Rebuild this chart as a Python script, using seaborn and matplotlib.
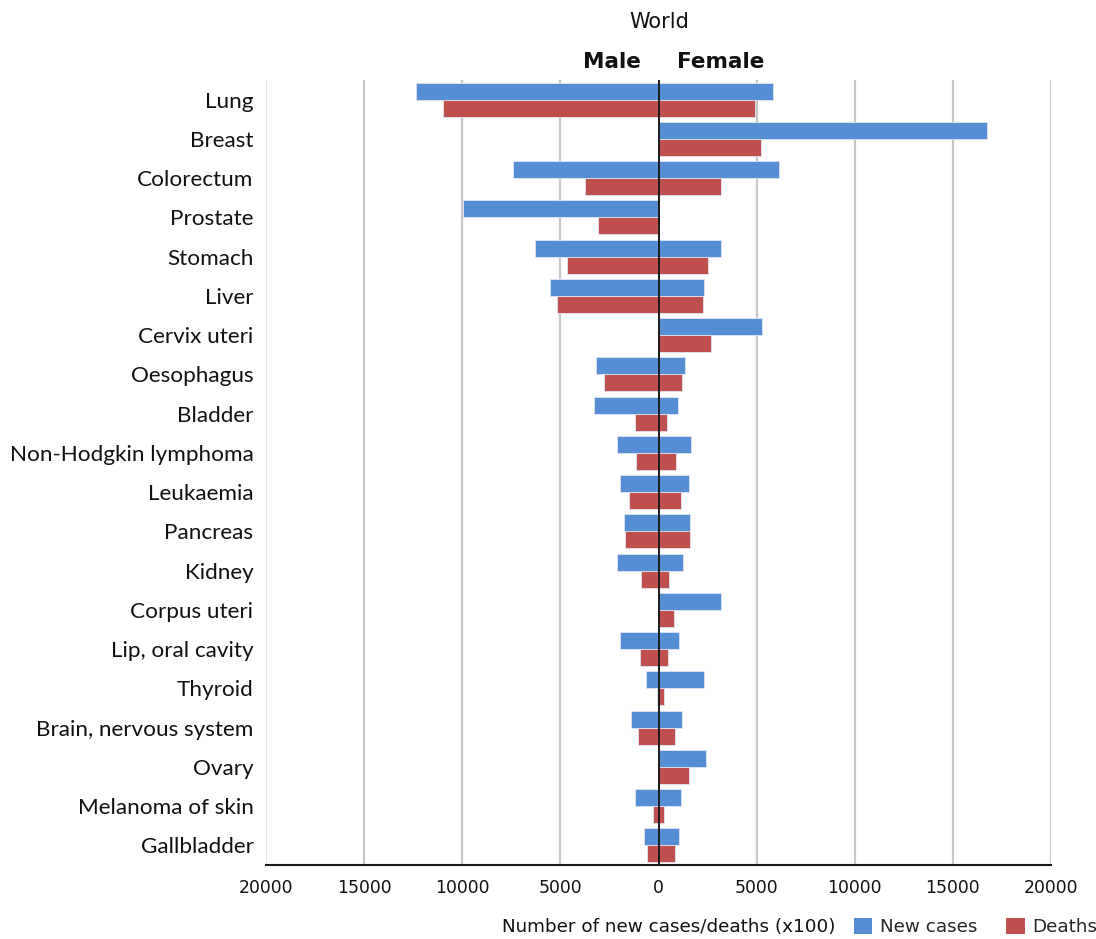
import numpy as np
import pandas as pd
import matplotlib
matplotlib.use("Agg")
import matplotlib.pyplot as plt
from matplotlib.patches import Patch
import seaborn as sns

# Cancer sites, top to bottom
sites = [
    "Lung", "Breast", "Colorectum", "Prostate", "Stomach", "Liver",
    "Cervix uteri", "Oesophagus", "Bladder", "Non-Hodgkin lymphoma",
    "Leukaemia", "Pancreas", "Kidney", "Corpus uteri", "Lip, oral cavity",
    "Thyroid", "Brain, nervous system", "Ovary", "Melanoma of skin",
    "Gallbladder",
]

# Counts in hundreds (NaN where a site does not apply to that sex)
male_new = [12380, np.nan, 7430, 9970, 6280, 5510, np.nan, 3200, 3290, 2140,
            1970, 1750, 2130, np.nan, 1970, 650, 1380, np.nan, 1190, 750]
male_deaths = [10970, np.nan, 3720, 3060, 4680, 5190, np.nan, 2790, 1210, 1140,
               1480, 1700, 890, np.nan, 950, 100, 1020, np.nan, 290, 580]
female_new = [5850, 16750, 6150, np.nan, 3190, 2300, 5290, 1340, 1000, 1680,
              1530, 1610, 1260, 3210, 1020, 2330, 1190, 2400, 1140, 1040]
female_deaths = [4930, 5220, 3190, np.nan, 2530, 2260, 2670, 1200, 440, 870,
                 1150, 1580, 540, 780, 490, 290, 850, 1530, 260, 850]

metrics = ["New cases", "Deaths"]
palette = {"New cases": "#558ED5", "Deaths": "#C0504D"}


def long_frame(new, deaths, sign):
    rows = []
    for s, n, d in zip(sites, new, deaths):
        rows.append({"site": s, "metric": "New cases", "value": sign * n})
        rows.append({"site": s, "metric": "Deaths", "value": sign * d})
    return pd.DataFrame(rows)


male_df = long_frame(male_new, male_deaths, -1)
female_df = long_frame(female_new, female_deaths, 1)

sns.set_style("white")
plt.rcParams["font.family"] = ["DejaVu Sans"]

fig = plt.figure(figsize=(10.96, 9.39), dpi=100)
ax = fig.add_axes([266 / 1096, 1 - 865 / 939, (1051 - 266) / 1096, (865 - 80) / 939])

for df in (male_df, female_df):
    sns.barplot(data=df, y="site", x="value", hue="metric", order=sites,
                hue_order=metrics, palette=palette, orient="h", dodge=True,
                width=0.87, gap=0, errorbar=None, legend=False,
                edgecolor="#dfe6f2", linewidth=0.6, saturation=1, ax=ax, zorder=3)

ax.set_xlim(-20000, 20000)
ax.set_ylim(len(sites) - 0.5, -0.5)
ticks = np.arange(-20000, 20001, 5000)
ax.set_xticks(ticks)
ax.set_xticklabels([str(abs(t)) for t in ticks], fontsize=12.4, color="#111111")
ax.set_xlabel("")
ax.set_ylabel("")

for t in ticks:
    if t == -20000:
        ax.axvline(t, color="#e4e4e4", lw=1.4, zorder=1)
    elif t != 0:
        ax.axvline(t, color="#c8c8c8", lw=1.6, zorder=1)
ax.axvline(0, color="#1a1a1a", lw=1.4, zorder=4)

for side in ("left", "right", "top"):
    ax.spines[side].set_visible(False)
ax.spines["bottom"].set_color("#1a1a1a")
ax.spines["bottom"].set_linewidth(1.5)
ax.tick_params(axis="x", direction="out", length=6, width=1.2, color="#333333", pad=4)
ax.tick_params(axis="y", length=0, pad=9)
for lab in ax.get_yticklabels():
    lab.set_fontfamily("Lato")
    lab.set_fontsize(16.2)
    lab.set_color("#111111")

fig.text(659 / 1096, 1 - 22 / 939, "World", ha="center", va="center", fontsize=15, color="#111111")
fig.text(641 / 1096, 1 - 62 / 939, "Male", ha="right", va="center", fontsize=15.5,
         fontweight="bold", color="#111111")
fig.text(677 / 1096, 1 - 62 / 939, "Female", ha="left", va="center", fontsize=15.5,
         fontweight="bold", color="#111111")

fig.text(836 / 1096, 1 - 927 / 939, "Number of new cases/deaths (x100)", ha="right",
         va="center", fontsize=13.2, color="#111111")
handles = [Patch(facecolor=palette[m], edgecolor="none", label=m) for m in metrics]
fig.legend(handles=handles, loc="center left", bbox_to_anchor=(854 / 1096, 1 - 927 / 939),
           ncol=2, frameon=False, fontsize=13.2, handlelength=1.0, handleheight=1.0,
           handletextpad=0.4, columnspacing=1.6, borderaxespad=0, borderpad=0)

fig.savefig("out.png", dpi=100)
